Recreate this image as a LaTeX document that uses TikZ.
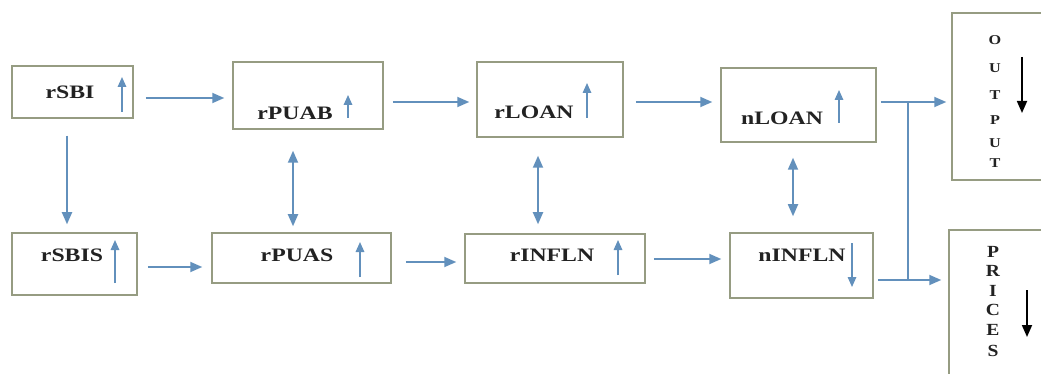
\documentclass[tikz,border=0pt]{standalone}
\usepackage{graphicx}
\usepackage{fontspec}
\setmainfont{Liberation Serif}
\usetikzlibrary{arrows.meta}
\definecolor{boxc}{RGB}{150,156,130}
\definecolor{arrc}{RGB}{98,144,188}
\definecolor{txtc}{RGB}{34,34,34}
\newcommand\wtxt[1]{\scalebox{1.25}[1]{#1}}
\begin{document}
\begin{tikzpicture}[x=1pt,y=-1pt,
  box/.style={draw=boxc, line width=1.5pt, fill=white, inner sep=0pt},
  lbl/.style={font=\fontsize{19}{21}\selectfont\bfseries, inner sep=0pt, text=txtc},
  arr/.style={draw=arrc, line width=1.8pt, -{Triangle[length=12pt,width=10pt]}},
  darr/.style={draw=arrc, line width=1.8pt, {Triangle[length=12pt,width=10pt]}-{Triangle[length=12pt,width=10pt]}},
  inarr/.style={draw=arrc, line width=1.6pt, -{Triangle[length=10pt,width=8.5pt]}},
  blkarr/.style={draw=black, line width=1.8pt, -{Triangle[length=12pt,width=10pt]}},
  vlet/.style={font=\fontsize{13.5}{14}\selectfont\bfseries, inner sep=0pt, text=txtc},
  vletb/.style={font=\fontsize{17}{18}\selectfont\bfseries, inner sep=0pt, text=txtc},
]
\useasboundingbox (0,0) rectangle (1041,374);
\clip (0,0) rectangle (1041,374);
\fill[white] (0,0) rectangle (1041,374);

% boxes
\node[box, minimum width=121pt, minimum height=52pt] (rSBI) at (72.5,92) {};
\node[box, minimum width=150pt, minimum height=67pt] (rPUAB) at (308,95.5) {};
\node[box, minimum width=146pt, minimum height=75pt] (rLOAN) at (550,99.5) {};
\node[box, minimum width=155pt, minimum height=74pt] (nLOAN) at (798.5,105) {};
\node[box, minimum width=98pt, minimum height=167pt] (OUT) at (1001,96.5) {};
\node[box, minimum width=125pt, minimum height=62pt] (rSBIS) at (74.5,264) {};
\node[box, minimum width=179pt, minimum height=50pt] (rPUAS) at (301.5,258) {};
\node[box, minimum width=180pt, minimum height=49pt] (rINFLN) at (555,258.5) {};
\node[box, minimum width=143pt, minimum height=65pt] (nINFLN) at (801.5,265.5) {};
\node[box, minimum width=101pt, minimum height=155pt] (PRI) at (999.5,307.5) {};

% labels
\node[lbl] (trSBI) at (70,92) {\wtxt{rSBI}};
\node[lbl] (trPUAB) at (295,113) {\wtxt{rPUAB}};
\node[lbl] (trLOAN) at (534,112) {\wtxt{rLOAN}};
\node[lbl] (tnLOAN) at (782,118) {\wtxt{nLOAN}};
\node[lbl] (trSBIS) at (72,255) {\wtxt{rSBIS}};
\node[lbl] (trPUAS) at (297,255) {\wtxt{rPUAS}};
\node[lbl] (trINFLN) at (552,255) {\wtxt{rINFLN}};
\node[lbl] (tnINFLN) at (802,255) {\wtxt{nINFLN}};

\foreach \l/\yy [count=\i] in {O/40,U/68,T/95,P/120,U/143,T/163}
  \node[vlet] (out\i) at (995,\yy) {\scalebox{1.2}[1]{\l}};
\foreach \l/\yy [count=\i] in {P/252,R/271,I/291,C/310,E/330,S/351}
  \node[vletb] (pri\i) at (993,\yy) {\scalebox{1.15}[1]{\l}};

% small arrows inside boxes
\draw[inarr] (122,112) -- (122,77);
\draw[inarr] (348,118) -- (348,95);
\draw[inarr] (587,118) -- (587,83);
\draw[inarr] (839,123) -- (839,90);
\draw[inarr] (115,283) -- (115,240);
\draw[inarr] (360,277) -- (360,242);
\draw[inarr] (618,275) -- (618,240);
\draw[inarr] (852,243) -- (852,287);
\draw[blkarr] (1022,57) -- (1022,113);
\draw[blkarr] (1027,290) -- (1027,337);

% connectors
\draw[arr, shorten <=12pt, shorten >=8pt] ([yshift=-6pt]rSBI.east) -- ([yshift=-6pt]rSBI.east -| rPUAB.west);
\draw[arr, shorten <=9pt, shorten >=7pt] ([yshift=-6.5pt]rPUAB.east) -- ([yshift=-6.5pt]rPUAB.east -| rLOAN.west);
\draw[arr, shorten <=12pt, shorten >=8pt] ([yshift=-2.5pt]rLOAN.east) -- ([yshift=-2.5pt]rLOAN.east -| nLOAN.west);
\draw[arr, shorten <=4pt, shorten >=5pt] ([yshift=3pt]nLOAN.east) -- ([yshift=3pt]nLOAN.east -| OUT.west);
\draw[arr, shorten <=17pt, shorten >=8pt] ([xshift=-5.5pt]rSBI.south) -- ([xshift=-5.5pt]rSBI.south |- rSBIS.north);
\draw[darr, shorten <=21pt, shorten >=6pt] ([xshift=-15pt]rPUAB.south) -- ([xshift=-15pt]rPUAB.south |- rPUAS.north);
\draw[darr, shorten <=18pt, shorten >=9pt] ([xshift=-12pt]rLOAN.south) -- ([xshift=-12pt]rLOAN.south |- rINFLN.north);
\draw[darr, shorten <=15pt, shorten >=16pt] ([xshift=-5.5pt]nLOAN.south) -- ([xshift=-5.5pt]nLOAN.south |- nINFLN.north);
\draw[arr, shorten <=10pt, shorten >=9pt] ([yshift=-3pt]rSBIS.east) -- ([yshift=-3pt]rSBIS.east -| rPUAS.west);
\draw[arr, shorten <=14pt, shorten >=8pt] ([yshift=-4pt]rPUAS.east) -- ([yshift=-4pt]rPUAS.east -| rINFLN.west);
\draw[arr, shorten <=8pt, shorten >=8pt] ([yshift=-0.5pt]rINFLN.east) -- ([yshift=-0.5pt]rINFLN.east -| nINFLN.west);
\draw[arr, shorten <=4pt, shorten >=7pt] ([yshift=-14.5pt]nINFLN.east) -- ([yshift=-14.5pt]nINFLN.east -| PRI.west);
\coordinate (jt) at (908,102);
\coordinate (jb) at (908,280);
\draw[draw=arrc, line width=1.8pt] (jt) -- (jb);
\end{tikzpicture}
\end{document}
